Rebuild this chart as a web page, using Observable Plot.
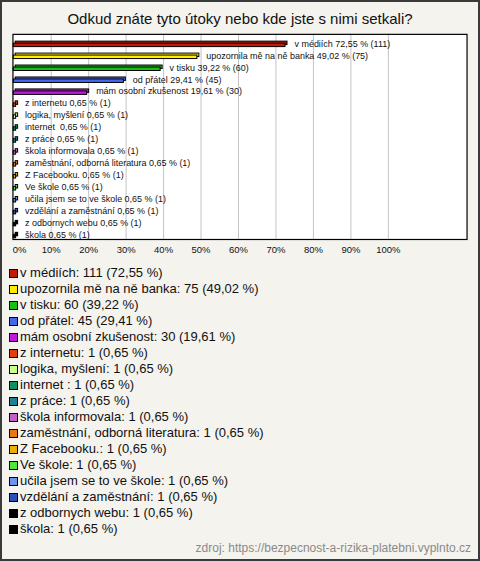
<!DOCTYPE html>
<html>
<head>
<meta charset="utf-8">
<script src="https://cdn.jsdelivr.net/npm/d3@7"></script>
<script src="https://cdn.jsdelivr.net/npm/@observablehq/plot@0.6"></script>
<style>
  html, body { margin: 0; padding: 0; background: #fff; }
  #box { position: relative; width: 480px; height: 561px; box-sizing: border-box;
         border: 2px solid #3a3a3a; background: #f4f3ee; overflow: hidden;
         font-family: "Liberation Sans", Arial, sans-serif; }
  #title { position: absolute; left: 0; top: 8px; width: 476px; text-align: center;
           font-size: 15px; color: #111; line-height: 18px; }
  #chart { position: absolute; left: -2px; top: -2px; }
  #legend { position: absolute; left: 7px; top: 263px; font-size: 13px; color: #111; }
  .li { height: 16px; line-height: 16px; white-space: pre; display: flex; align-items: center; }
  .sw { width: 7px; height: 7px; border: 1px solid #000; margin-right: 2px; flex: none; }
  #source { position: absolute; right: 7px; top: 539px; font-size: 12px; color: #8a8a8a; }
</style>
</head>
<body>
<div id="box">
  <div id="title"></div>
  <div id="chart"></div>
  <div id="legend"></div>
  <div id="source"></div>
</div>
<script>
const titleText = "Odkud znáte tyto útoky nebo kde jste s nimi setkali?";
const sourceText = "zdroj: https://bezpecnost-a-rizika-platebni.vyplnto.cz";
const categories = [
  "v médiích", "upozornila mě na ně banka", "v tisku", "od přátel", "mám osobní zkušenost",
  "z internetu", "logika, myšlení", "internet ", "z práce", "škola informovala",
  "zaměstnání, odborná literatura", "Z Facebooku.", "Ve škole", "učila jsem se to ve škole",
  "vzdělání a zaměstnání", "z odbornych webu", "škola"
];
const counts = [111, 75, 60, 45, 30, 1, 1, 1, 1, 1, 1, 1, 1, 1, 1, 1, 1];
const percents = [72.55, 49.02, 39.22, 29.41, 19.61, 0.65, 0.65, 0.65, 0.65, 0.65, 0.65, 0.65, 0.65, 0.65, 0.65, 0.65, 0.65];
const colors = [
  "#c01a08", "#ffec00", "#18c018", "#4468ec", "#c018d8",
  "#e0400c", "#ccff88", "#109060", "#1e8090", "#c060c8",
  "#e87810", "#e8b008", "#50e838", "#6c94e8", "#2c50b8",
  "#000000", "#000000"
];
const tickValues = [0, 10, 20, 30, 40, 50, 60, 70, 80, 90, 100];

const fmt = v => v.toFixed(2).replace(".", ",");
const rows = categories.map((c, i) => ({cat: c, n: counts[i], pct: percents[i], color: colors[i]}));

document.getElementById("title").textContent = titleText;
document.getElementById("source").textContent = sourceText;

const fontFam = "Liberation Sans, Arial, sans-serif";
const plot = Plot.plot({
  width: 480,
  height: 264,
  marginTop: 34,
  marginBottom: 24,
  marginLeft: 12.5,
  marginRight: 11.5,
  style: {background: "transparent", fontFamily: fontFam},
  x: {domain: [-0.2, 121], axis: null},
  y: {domain: categories, range: [37.7, 241.7], paddingInner: 0, paddingOuter: 0, axis: null},
  color: {type: "identity"},
  marks: [
    Plot.frame({fill: "#ffffff"}),
    Plot.ruleX(tickValues.filter(d => d > 0), {stroke: "#c4c4c4", strokeWidth: 1}),
    Plot.barX(rows, {x: "pct", y: "cat", fill: "color", stroke: "#000", strokeWidth: 1,
      insetTop: 5.3, insetBottom: 3.2, dx: 2, dy: -2}),
    Plot.barX(rows, {x: "pct", y: "cat", fill: "color", stroke: "#000", strokeWidth: 1,
      insetTop: 5.3, insetBottom: 3.2}),
    Plot.text(rows, {x: "pct", y: "cat", text: d => `${d.cat} ${fmt(d.pct)} % (${d.n})`,
      textAnchor: "start", dx: 9, dy: -0.5, fontSize: 9, fill: "#111"}),
    Plot.frame({stroke: "#000", strokeWidth: 1.2}),
    Plot.text(tickValues.filter(d => d === 0), {x: d => d, frameAnchor: "bottom", dy: 14,
      text: d => d + "%", textAnchor: "start", dx: -1, fontSize: 9.5, fill: "#111"}),
    Plot.text(tickValues.filter(d => d > 0), {x: d => d, frameAnchor: "bottom", dy: 14,
      text: d => d + "%", textAnchor: "middle", fontSize: 9.5, fill: "#111"})
  ]
});
document.getElementById("chart").appendChild(plot);

const legend = document.getElementById("legend");
rows.forEach(r => {
  const li = document.createElement("div");
  li.className = "li";
  const sw = document.createElement("span");
  sw.className = "sw";
  sw.style.background = r.color;
  const tx = document.createElement("span");
  tx.textContent = `${r.cat.trimEnd() === r.cat ? r.cat : r.cat}: ${r.n} (${fmt(r.pct)} %)`;
  li.appendChild(sw);
  li.appendChild(tx);
  legend.appendChild(li);
});
</script>
</body>
</html>
